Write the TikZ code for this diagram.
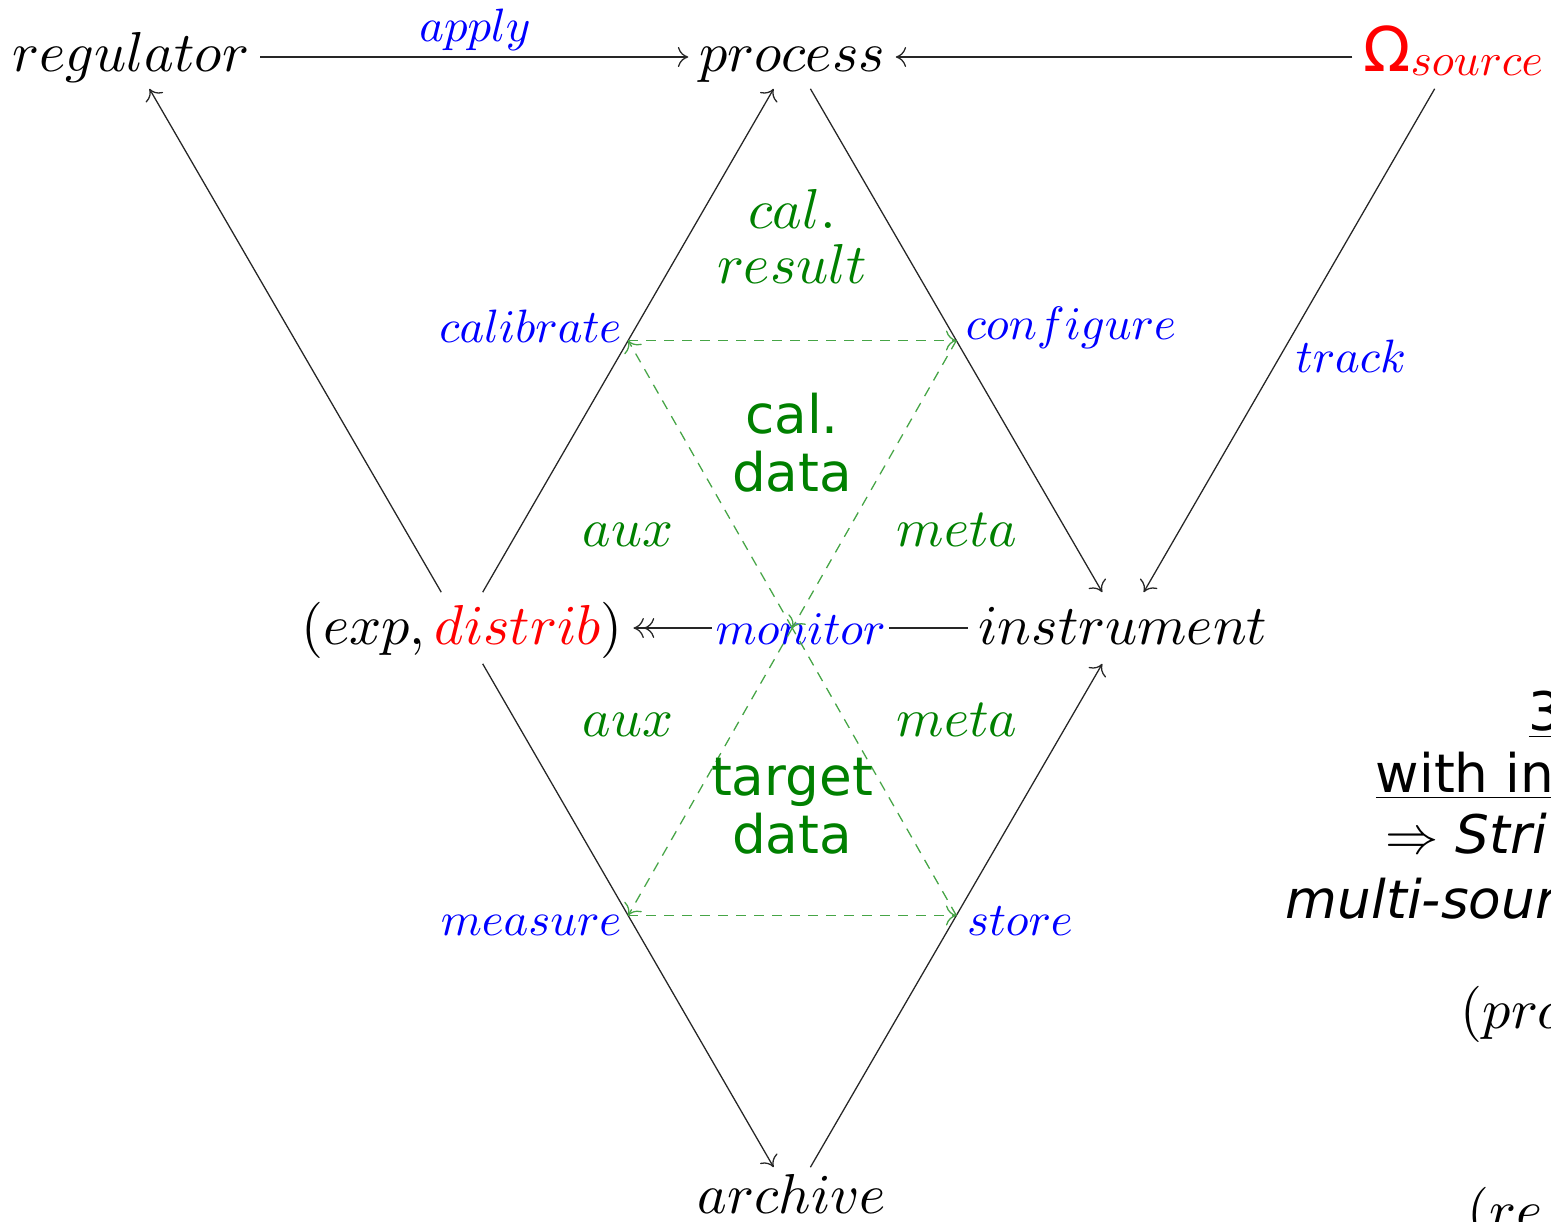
\RequirePackage{fix-cm}
\documentclass[tikz,border=0pt]{standalone}
\usepackage{fontspec}
\usetikzlibrary{arrows.meta}
\DeclareFontShape{OML}{cmm}{m}{it}{<->cmmi10}{}
\DeclareFontShape{OT1}{cmr}{m}{n}{<->cmr10}{}
\DeclareFontShape{OMS}{cmsy}{m}{n}{<->cmsy10}{}
\newfontfamily\djv{DejaVu Sans}
\definecolor{gm}{RGB}{0,128,0}
\definecolor{gd}{RGB}{70,165,70}
\begin{document}
\begin{tikzpicture}[x=0.25pt,y=-0.25pt,
  >={To[length=2.6pt,width=5pt]},
  prim/.style={font=\fontsize{14.07}{16}\selectfont, inner sep=2.5pt, anchor=base},
  toprow/.style={prim, text height=8.75pt, text depth=1.75pt},
  midrow/.style={prim, text height=10.25pt, text depth=2.25pt},
  lbl/.style={text=blue, font=\fontsize{11.7}{14}\selectfont, inner sep=0pt},
  greenm/.style={text=gm, font=\fontsize{13.5}{14}\selectfont, inner sep=0pt},
  greens/.style={text=gm, font=\djv\fontsize{13.3}{14.5}\selectfont, align=center, inner sep=0pt},
  conn/.style={draw=black!85, line width=0.32pt},
  flow/.style={draw=gd, dash pattern=on 2.5pt off 2pt, line width=0.32pt},
  rtxt/.style={font=\djv\fontsize{13.3}{16}\selectfont, anchor=base west, inner sep=0pt}
]
\useasboundingbox (0,0) rectangle (1551,1221);

% main nodes
\node[toprow] (reg) at (131,71) {$regulator$};
\node[toprow] (proc) at (792,71) {$process$};
\node[toprow] (omega) at (1453,71) {\textcolor{red}{{\djv\fontsize{15.5}{16}\selectfont Ω}\raisebox{-1pt}{\fontsize{11.4}{13}\selectfont$source$}}};
\node[midrow] (exp) at (462,644) {$(exp,{\color{red}distrib})$};
\node[midrow] (inst) at (1123,644) {$instrument$};
\node[toprow] (arch) at (792,1213) {$archive$};

% connectors
\draw[conn,->] (reg) -- (proc);
\draw[conn,->] (omega) -- (proc);
\draw[conn,->] (omega) -- (inst);
\draw[conn,->] (exp) -- (reg);
\draw[conn,->] (exp) -- coordinate[midway] (cal) (proc);
\draw[conn,->] (proc) -- coordinate[midway] (conf) (inst);
\draw[conn,->] (exp) -- coordinate[midway] (meas) (arch);
\draw[conn,->] (arch) -- coordinate[midway] (sto) (inst);
\draw[conn,->>] (inst) -- node[lbl, fill=white, inner sep=0.8pt, text height=1ex, text depth=0pt, yshift=-2pt] (mon) {$monitor$} (exp);

% blue labels
\node[lbl] (apply) at (475,30) {$apply$};
\node[lbl] (track) at (1351,356) {$track$};
\node[lbl, anchor=base east] (calib) at ([xshift=-1.5pt,yshift=-0.5pt]cal) {$calibrate$};
\node[lbl, anchor=base west] (config) at ([xshift=2.2pt,yshift=0.3pt]conf) {$configure$};
\node[lbl, anchor=base east] (measure) at ([xshift=-1.5pt,yshift=-5pt]meas) {$measure$};
\node[lbl, anchor=base west] (store) at ([xshift=2.5pt,yshift=-5pt]sto) {$store$};

% green dashed flows
\coordinate (X) at (intersection of cal--sto and conf--meas);
\draw[flow,->] (cal) -- (conf);
\draw[flow,->] (meas) -- (sto);
\draw[flow,->] (conf) -- (X);
\draw[flow,->] (X) -- (meas);
\draw[flow] (sto) -- (X);
\draw[flow,->] (X) -- (cal);

% green labels
\node[greenm, align=center, font=\fontsize{14.07}{13.75}\selectfont] (calres) at (792,236) {$cal.$\\$result$};
\node[greens] (caldata) at (792,443) {cal.\\data};
\node[greens] (tgtdata) at (792,806) {target\\data};
\node[greenm, anchor=base] (aux1) at (628,546) {$aux$};
\node[greenm, anchor=base] (meta1) at (957,546) {$meta$};
\node[greenm, anchor=base] (aux2) at (628,736) {$aux$};
\node[greenm, anchor=base] (meta2) at (957,736) {$meta$};

% right-side text (cut by the edge)
\node[rtxt] (r1) at (1528,730) {\underline{3}};
\node[rtxt] (r2) at (1375,792) {\underline{with in}};
\node[rtxt] (r3) at (1385,853) {$\Rightarrow$ \textit{Stri}};
\node[rtxt] (r4) at (1285,918) {\textit{multi-sour}};
\node[rtxt, font=\fontsize{14.07}{16}\selectfont] (r5) at (1460,1028) {$(pro$};
\node[rtxt, font=\fontsize{14.07}{16}\selectfont] (r6) at (1467,1229) {$(re$};
\end{tikzpicture}
\end{document}
